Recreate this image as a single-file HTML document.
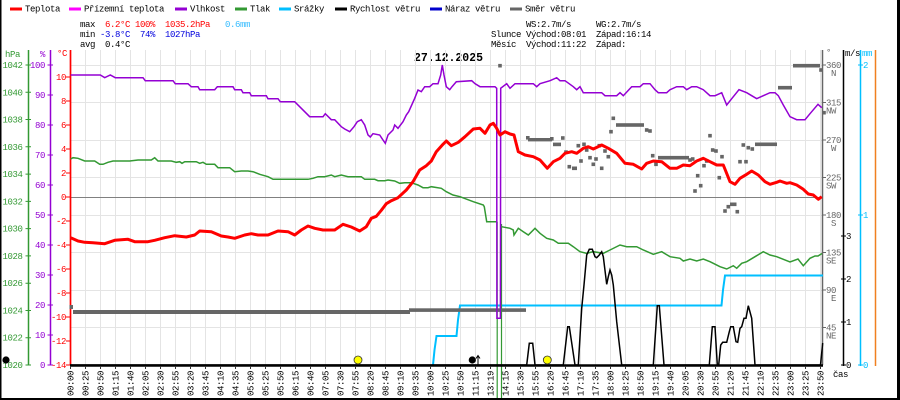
<!DOCTYPE html>
<html><head><meta charset="utf-8"><style>
html,body{margin:0;padding:0;background:#fff;}
svg{display:block;}
text{font-family:"Liberation Mono","DejaVu Sans Mono",monospace;font-size:9px;letter-spacing:-0.4px;}
</style></head><body>
<svg width="900" height="400" viewBox="0 0 900 400" xmlns="http://www.w3.org/2000/svg">
<rect width="900" height="400" fill="#fff"/>

<!-- legend -->
<g stroke-width="3">
<line x1="10" y1="9" x2="22" y2="9" stroke="#ff0000"/>
<line x1="69" y1="9" x2="81" y2="9" stroke="#ff00ff"/>
<line x1="175" y1="9" x2="187" y2="9" stroke="#9400d3"/>
<line x1="235" y1="9" x2="247" y2="9" stroke="#339933"/>
<line x1="279" y1="9" x2="291" y2="9" stroke="#00bfff"/>
<line x1="335" y1="9" x2="347" y2="9" stroke="#000"/>
<line x1="430" y1="9" x2="442" y2="9" stroke="#0000cc"/>
<line x1="510" y1="9" x2="522" y2="9" stroke="#666"/>
</g>
<g fill="#000">
<text x="25" y="11.5">Teplota</text>
<text x="84" y="11.5">Přízemní teplota</text>
<text x="190" y="11.5">Vlhkost</text>
<text x="250" y="11.5">Tlak</text>
<text x="294" y="11.5">Srážky</text>
<text x="350" y="11.5">Rychlost větru</text>
<text x="445" y="11.5">Náraz větru</text>
<text x="525" y="11.5">Směr větru</text>
</g>

<!-- stats -->
<text x="80" y="27">max</text>
<text x="105" y="27" fill="#ff0000">6.2°C</text>
<text x="135" y="27" fill="#ff0000">100%</text>
<text x="165" y="27" fill="#ff0000">1035.2hPa</text>
<text x="225" y="27" fill="#33bbff">0.6mm</text>
<text x="80" y="37">min</text>
<text x="100" y="37" fill="#0000dd">-3.8°C</text>
<text x="140" y="37" fill="#0000dd">74%</text>
<text x="165" y="37" fill="#0000dd">1027hPa</text>
<text x="80" y="47">avg</text>
<text x="105" y="47">0.4°C</text>

<text x="526" y="27">WS:2.7m/s</text>
<text x="596" y="27">WG:2.7m/s</text>
<text x="491" y="37">Slunce</text>
<text x="526" y="37">Východ:08:01</text>
<text x="596" y="37">Západ:16:14</text>
<text x="491" y="47">Měsíc</text>
<text x="526" y="47">Východ:11:22</text>
<text x="596" y="47">Západ:</text>

<text x="414" y="61" style="font-size:11.5px;font-weight:bold;letter-spacing:0px">27.12.2025</text>

<!-- axis headers -->
<text x="5" y="57" fill="#339933">hPa</text>
<text x="40" y="57" fill="#9400d3">%</text>
<text x="57" y="56" fill="#ff0000">°C</text>
<text x="826" y="55" fill="#666">°</text>
<text x="845" y="56">m/s</text>
<text x="862" y="56" fill="#00bfff">mm</text>

<!-- grid -->
<path d="M85.5 50V365M100.5 50V365M115.5 50V365M130.5 50V365M145.5 50V365M160.5 50V365M175.5 50V365M190.5 50V365M205.5 50V365M220.5 50V365M235.5 50V365M250.5 50V365M265.5 50V365M280.5 50V365M295.5 50V365M310.5 50V365M325.5 50V365M340.5 50V365M355.5 50V365M370.5 50V365M385.5 50V365M400.5 50V365M415.5 50V365M430.5 50V365M445.5 50V365M460.5 50V365M475.5 50V365M490.5 50V365M505.5 50V365M520.5 50V365M535.5 50V365M550.5 50V365M565.5 50V365M580.5 50V365M595.5 50V365M610.5 50V365M625.5 50V365M640.5 50V365M655.5 50V365M670.5 50V365M685.5 50V365M700.5 50V365M715.5 50V365M730.5 50V365M745.5 50V365M760.5 50V365M775.5 50V365M790.5 50V365M805.5 50V365M820.5 50V365" stroke="#e4e4e4" stroke-width="1"/>
<path d="M70 65.5H822M70 102.5H822M70 140.5H822M70 177.5H822M70 215.5H822M70 252.5H822M70 290.5H822M70 327.5H822" stroke="#e4e4e4" stroke-width="1"/>
<line x1="70" y1="197.5" x2="822" y2="197.5" stroke="#808080" stroke-width="1"/>

<!-- left axes -->
<line x1="28.5" y1="50" x2="28.5" y2="365" stroke="#339933" stroke-width="1.5"/>
<line x1="50.5" y1="50" x2="50.5" y2="365" stroke="#9400d3" stroke-width="1.5"/>
<line x1="70.5" y1="50" x2="70.5" y2="365" stroke="#ff0000" stroke-width="1.7"/>
<path d="M25.5 65H31M25.5 92.3H31M25.5 119.5H31M25.5 146.8H31M25.5 174.1H31M25.5 201.4H31M25.5 228.6H31M25.5 255.9H31M25.5 283.2H31M25.5 310.5H31M25.5 337.7H31M25.5 365H31" stroke="#339933" stroke-width="1"/>
<path d="M47.5 65H53M47.5 95H53M47.5 125H53M47.5 155H53M47.5 185H53M47.5 215H53M47.5 245H53M47.5 275H53M47.5 305H53M47.5 335H53M47.5 365H53" stroke="#9400d3" stroke-width="1"/>
<path d="M66 77H70M66 101H70M66 125H70M66 149H70M66 173H70M66 197H70M66 221H70M66 245H70M66 269H70M66 293H70M66 317H70M66 341H70M66 365H70" stroke="#ff0000" stroke-width="1"/>
<g fill="#339933" text-anchor="end">
<text x="22.5" y="68">1042</text><text x="22.5" y="95.3">1040</text><text x="22.5" y="122.5">1038</text><text x="22.5" y="149.8">1036</text><text x="22.5" y="177.1">1034</text><text x="22.5" y="204.4">1032</text><text x="22.5" y="231.6">1030</text><text x="22.5" y="258.9">1028</text><text x="22.5" y="286.2">1026</text><text x="22.5" y="313.5">1024</text><text x="22.5" y="340.7">1022</text><text x="22.5" y="368">1020</text>
</g>
<g fill="#9400d3" text-anchor="end">
<text x="45" y="68">100</text><text x="45" y="98">90</text><text x="45" y="128">80</text><text x="45" y="158">70</text><text x="45" y="188">60</text><text x="45" y="218">50</text><text x="45" y="248">40</text><text x="45" y="278">30</text><text x="45" y="308">20</text><text x="45" y="338">10</text><text x="45" y="368">0</text>
</g>
<g fill="#ff0000" text-anchor="end">
<text x="66" y="80">10</text><text x="66" y="104">8</text><text x="66" y="128">6</text><text x="66" y="152">4</text><text x="66" y="176">2</text><text x="66" y="200">0</text><text x="66" y="224">-2</text><text x="66" y="248">-4</text><text x="66" y="272">-6</text><text x="66" y="296">-8</text><text x="66" y="320">-10</text><text x="66" y="344">-12</text><text x="66" y="368">-14</text>
</g>

<!-- right axes -->
<line x1="822.5" y1="50" x2="822.5" y2="365" stroke="#666" stroke-width="1.5"/>
<line x1="843.5" y1="50" x2="843.5" y2="366" stroke="#000" stroke-width="1.5"/>
<line x1="860.5" y1="50" x2="860.5" y2="366" stroke="#00bfff" stroke-width="1.5"/>
<line x1="875.5" y1="50" x2="875.5" y2="366" stroke="#f08020" stroke-width="1.5"/>
<path d="M822 65H826M822 102.5H826M822 140H826M822 177.5H826M822 215H826M822 252.5H826M822 290H826M822 327.5H826" stroke="#666" stroke-width="1"/>
<path d="M841 365H846M841 322H846M841 279H846M841 236H846" stroke="#000" stroke-width="1"/>
<path d="M858 365H863M858 215H863M858 65H863" stroke="#00bfff" stroke-width="1"/>
<g fill="#666">
<text x="826" y="68">360</text><text x="831" y="76">N</text>
<text x="826" y="105.5">315</text><text x="826" y="113.5">NW</text>
<text x="826" y="143">270</text><text x="831" y="151">W</text>
<text x="826" y="180.5">225</text><text x="826" y="188.5">SW</text>
<text x="826" y="218">180</text><text x="831" y="226">S</text>
<text x="826" y="255.5">135</text><text x="826" y="263.5">SE</text>
<text x="826" y="293">90</text><text x="831" y="301">E</text>
<text x="826" y="330.5">45</text><text x="826" y="338.5">NE</text>
</g>
<g fill="#000">
<text x="846" y="368">0</text><text x="846" y="325">1</text><text x="846" y="282">2</text><text x="846" y="239">3</text>
</g>
<g fill="#00bfff">
<text x="863" y="368">0</text><text x="863" y="218">1</text><text x="863" y="68">2</text>
</g>

<!-- series: precipitation -->
<polyline fill="none" stroke="#00bfff" stroke-width="2" points="433,365 434.5,350 436.5,336 456.5,336 458,320 460,305.5 721.5,305.5 723,290 725,275.5 823,275.5"/>

<!-- wind direction -->
<g fill="#666">
<rect x="69.5" y="305" width="3.5" height="4"/>
<rect x="73" y="310" width="337" height="4"/>
<rect x="409" y="308.3" width="117" height="3.6"/>
<rect x="498.2" y="63.9" width="3.6" height="3.6"/>
<rect x="526" y="136" width="3.6" height="3.6"/>
<rect x="528" y="138" width="24" height="3.4"/>
<rect x="550" y="137" width="3.6" height="3.6"/>
<rect x="561" y="136.2" width="3.6" height="3.6"/>
<rect x="553" y="142.6" width="8" height="3.6"/>
<rect x="564.2" y="150.3" width="3.6" height="3.6"/>
<rect x="567.5" y="164.9" width="3.6" height="3.6"/>
<rect x="572" y="166.5" width="5" height="3.6"/>
<rect x="576.5" y="143.9" width="3.6" height="3.6"/>
<rect x="579.2" y="159.2" width="3.6" height="3.6"/>
<rect x="582.2" y="142.5" width="3.6" height="3.6"/>
<rect x="584.9" y="148.2" width="3.6" height="3.6"/>
<rect x="588.2" y="155.9" width="3.6" height="3.6"/>
<rect x="594.2" y="157.2" width="3.6" height="3.6"/>
<rect x="591.5" y="162.5" width="3.6" height="3.6"/>
<rect x="597.5" y="143.9" width="3.6" height="3.6"/>
<rect x="603.2" y="149.2" width="3.6" height="3.6"/>
<rect x="599.9" y="166.5" width="3.6" height="3.6"/>
<rect x="606.5" y="154.9" width="3.6" height="3.6"/>
<rect x="609.2" y="129.9" width="3.6" height="3.6"/>
<rect x="611.5" y="116.5" width="3.6" height="3.6"/>
<rect x="616" y="123.2" width="28" height="3.6"/>
<rect x="644.9" y="128.2" width="3.6" height="3.6"/>
<rect x="648.2" y="129.2" width="3.6" height="3.6"/>
<rect x="650.9" y="153.9" width="3.6" height="3.6"/>
<rect x="654.2" y="162.5" width="3.6" height="3.6"/>
<rect x="658" y="155.9" width="31" height="3.6"/>
<rect x="688.2" y="158.2" width="3.6" height="3.6"/>
<rect x="690.9" y="157.2" width="3.6" height="3.6"/>
<rect x="693.2" y="189.2" width="3.6" height="3.6"/>
<rect x="695.9" y="173.9" width="3.6" height="3.6"/>
<rect x="698.9" y="183.9" width="3.6" height="3.6"/>
<rect x="702.2" y="163.9" width="3.6" height="3.6"/>
<rect x="704.9" y="159.2" width="3.6" height="3.6"/>
<rect x="708.2" y="133.9" width="3.6" height="3.6"/>
<rect x="710.9" y="148.2" width="3.6" height="3.6"/>
<rect x="714.2" y="149.2" width="3.6" height="3.6"/>
<rect x="717.5" y="175.9" width="3.6" height="3.6"/>
<rect x="720.2" y="154.9" width="3.6" height="3.6"/>
<rect x="723.2" y="209.2" width="3.6" height="3.6"/>
<rect x="726.5" y="204.9" width="3.6" height="3.6"/>
<rect x="730" y="202.5" width="6.5" height="3.6"/>
<rect x="735.5" y="209.9" width="3.6" height="3.6"/>
<rect x="738.2" y="159.9" width="3.6" height="3.6"/>
<rect x="744.2" y="159.9" width="3.6" height="3.6"/>
<rect x="741.5" y="143.2" width="3.6" height="3.6"/>
<rect x="746.5" y="145.9" width="3.6" height="3.6"/>
<rect x="750.5" y="147.2" width="3.6" height="3.6"/>
<rect x="755" y="142.5" width="22" height="3.6"/>
<rect x="778" y="85.9" width="14" height="3.6"/>
<rect x="793" y="63.9" width="27" height="3.6"/>
<rect x="819.2" y="68.2" width="3.6" height="3.6"/>
<rect x="822.2" y="110.9" width="3.6" height="3.6"/>
</g>

<!-- pressure -->
<polyline fill="none" stroke="#339933" stroke-width="1.5" points="70.7,159 73,157.7 78,158.3 84.7,161 94.7,161 99.7,164.3 103,164.3 108,162.3 113,161 129.7,161 138,160 151.3,160 154.7,157.7 158,161 171.3,161 176.3,162.3 179.7,161.7 182,163.3 184.7,161.7 196.3,161.7 199.7,163.3 203,162.3 206.3,164.3 214.7,164.3 218,167.7 229.7,167.7 234.7,171.7 241.3,171 248,171 253,171.7 259.7,174.3 268,176.7 273,179.3 308,179.3 313,178.3 318,176.7 324.7,176.7 331.3,175 334.7,176.7 341.3,175 348,176.7 361.3,176.7 364.7,179.3 374.7,179.3 378,180.7 384.7,180.7 388,180 394.7,181 399.7,183.3 404.7,182.7 411.3,182.7 418,185 423,187.7 428,187.7 431.3,186.7 441.3,188.3 446.3,191.7 453,195 460,196.7 473.3,201.7 483.3,205 484.3,206.7 486.7,221.7 497,221.7"/>
<polyline fill="none" stroke="#339933" stroke-width="1.5" points="501.5,226.7 510,228.3 513.3,230 514,235 518.3,228.3 523.3,231.7 528.3,235 535,228.3 540,233.3 546.7,238.3 553.3,240 558.3,243.3 568.3,243.3 573.3,246.7 580,251.7 586.7,253.3 593.3,251.7 603.3,253.3 610,250 620,245 626.7,246.7 636.7,246.7 643.3,250 653.3,254.3 661.7,251.7 670,256.7 680,258.3 683.3,261 690,259 696.7,261 703.3,259 710,261.7 720,266.7 726.7,269 733.3,265.7 736.7,268.3 741.7,263.3 746.7,261.7 755,256.7 763.3,251.7 770,255 776.7,256.7 790,262 798,259 803.3,265.7 810,258.3 815,256 818,256 822,253.5"/>
<line x1="497.2" y1="221.7" x2="497.2" y2="398" stroke="#339933" stroke-width="1.2"/>
<line x1="501.5" y1="224" x2="501.5" y2="398" stroke="#339933" stroke-width="1.2"/>

<!-- humidity -->
<polyline fill="none" stroke="#9400d3" stroke-width="1.5" points="70.7,75 100.3,75 104.7,77.7 110.3,75 115.3,77.7 143,77.7 145.3,80.7 173,80.7 175.3,83.7 188,83.7 191.3,86.7 198,86.7 199.7,89.7 214.7,89.7 217.3,86.7 233,86.7 234.7,89.7 241.3,89.7 243,92.7 249.7,92.7 251.3,95.7 266.3,95.7 268,98.7 278,98.7 280.3,101.7 294.7,101.7 301.3,108.3 309.7,116.7 323,116.7 325.3,113.7 331.3,119.7 334.7,119.7 341.3,126.7 344.7,129 349.7,131.7 354,126.7 357.3,121.7 361.3,119.7 364.7,125 368,135 370.3,137 373,133.7 379.7,135 383,140 385.3,143.3 388,135 393,130 394.7,125 398,128.3 403,121.7 406.3,115 408.7,111.7 414.7,98.3 418,90 421.3,91.7 424.7,86.7 429.7,86.7 433,83.7 438,83.7 440.7,75 442.3,65 444,75 446.3,86.7 449.7,89.7 452,86.7 456.3,81.7 471.7,80.7 475,83.7 480,86.7 495,86.7 496.7,88.3 496.9,318.3 500.4,318.3 500.7,88.3 506.7,83.7 510,88.3 515,83.7 533.3,83.7 536.7,86.7 540,83.7 550,80.7 556.7,77.7 560,80.7 565,80.7 573.3,86.7 576.7,89.7 580,86.7 583.3,92.7 601.7,92.7 605,95.7 616.7,95.7 620,92.7 623.3,95.7 631.7,86.7 640,86.7 643.3,83.7 650,83.7 655,89.7 658.3,92.7 666.7,92.7 670,89.7 676.7,86.7 683.3,86.7 686.7,89.7 691.7,86.7 696.7,86.7 703.3,89.7 710,95.7 715,95.7 721.7,92.7 726.7,105 731.7,98.7 739,89.7 746.7,92.7 751.7,95.7 756.7,98.7 763.3,95.7 770,92.7 775,92.7 778.3,95.7 783.3,105 790,116.7 796.7,119.7 805,119.7 810,113.7 818,104.3 821.7,107.7"/>

<!-- temperature -->
<polyline fill="none" stroke="#ff0000" stroke-width="3" stroke-linejoin="round" points="70.7,237.7 78,241 84.7,242.3 93,242.7 104.7,243.7 114.7,240.3 128,239.3 134.7,241.7 148,241.7 154.7,240.3 164.7,237.7 174.7,235.7 186.3,237 194.7,235 199.7,231 211.3,231.7 221.3,236 228,237 234.7,238.3 244.7,235 251.3,233.7 258,235 268,235 278,231 288,231.7 294.7,235 301.3,230 308,226 314.7,228.3 323,230 334.7,230 343,224.3 351.3,227 359.7,231 366.3,226.7 371.3,218.3 376.3,216.3 381.3,210.3 386.3,203.7 391.3,200.7 398,197.7 406.3,190 413,181.7 419.7,170 426.3,165.7 431.3,161 436.3,151.7 443,144.3 446.3,141 451.3,145.7 458.3,142.3 465,136.7 473.3,129 480,128.3 485,133.3 490,125 493.3,123.3 496.7,128.3 500,135 505,131.7 510,134 514,135 518.3,151.7 525,155 533.3,156.7 540,160 547.3,168.3 553.3,161.7 560,158.3 565,153.3 571.7,151.7 576.7,153.3 583.3,148.3 588.3,146.7 593.3,149 601.7,145 608.3,148.3 616.7,153.3 625,163.3 633.3,164.3 641.7,169 646.7,163.3 653.3,161 661.7,161.7 670,168.3 676.7,168.3 683.3,165 690,165.7 696.7,161 703.3,158.3 710,161.7 716.7,165 723.3,165 730,181.7 735,184.3 740,178.3 746.7,174.3 751.7,171 758.3,175 765,181.7 770,184.3 776.7,182.3 780,181 786.7,183.3 790,182.7 796.7,185 803.3,189.3 808.3,194 813.3,195 818.3,199.3 821.7,196.7"/>

<!-- wind speed -->
<polyline fill="none" stroke="#000" stroke-width="1.5" points="70,365 526.7,365 529.3,343.3 532.7,343.3 535,365 563.3,365 567.7,326.7 569.3,326.7 575,365 578.3,365 581.7,308.3 584,285 586.7,255 589.3,249.3 592.3,249.3 595,256.7 596.7,257.7 599.3,255 601.7,251.7 603.3,256.7 606.7,284.3 608.3,276.7 610,270 611.7,275 613.3,285 616.7,321.7 621.7,365 653.3,365 657.3,305.7 659.3,305.7 664,365 709.3,365 712.3,326.7 715,326.7 717.3,365 718.7,365 720.7,345 722.7,342.3 726.7,342.3 729.3,331.7 730.7,326.7 733.3,326.7 736,341.7 737.7,342.3 740,328.3 741.7,326.7 744,318.3 746,318.3 748.3,305.7 751.7,318.3 755,365 820.5,365 822.7,343"/>

<!-- bottom axis -->
<line x1="70" y1="365.5" x2="823" y2="365.5" stroke="#000" stroke-width="2.5"/>
<path d="M70.5 366V369M85.5 366V369M100.5 366V369M115.5 366V369M130.5 366V369M145.5 366V369M160.5 366V369M175.5 366V369M190.5 366V369M205.5 366V369M220.5 366V369M235.5 366V369M250.5 366V369M265.5 366V369M280.5 366V369M295.5 366V369M310.5 366V369M325.5 366V369M340.5 366V369M355.5 366V369M370.5 366V369M385.5 366V369M400.5 366V369M415.5 366V369M430.5 366V369M445.5 366V369M460.5 366V369M475.5 366V369M490.5 366V369M505.5 366V369M520.5 366V369M535.5 366V369M550.5 366V369M565.5 366V369M580.5 366V369M595.5 366V369M610.5 366V369M625.5 366V369M640.5 366V369M655.5 366V369M670.5 366V369M685.5 366V369M700.5 366V369M715.5 366V369M730.5 366V369M745.5 366V369M760.5 366V369M775.5 366V369M790.5 366V369M805.5 366V369M820.5 366V369" stroke="#333" stroke-width="1"/>

<!-- markers -->
<circle cx="6" cy="360" r="3.6" fill="#000"/>
<circle cx="358" cy="360" r="4" fill="#ffff00" stroke="#333" stroke-width="0.8"/>
<circle cx="472.3" cy="360" r="3.6" fill="#000"/>
<path d="M478 365V356M476 358.5L478 355.5L480 358.5" stroke="#000" stroke-width="1" fill="none"/>
<circle cx="547.3" cy="360" r="4" fill="#ffff00" stroke="#333" stroke-width="0.8"/>

<!-- time labels -->
<g fill="#000" style="letter-spacing:0px">
<text transform="translate(73.5,396) rotate(-90)">00:00</text>
<text transform="translate(88.5,396) rotate(-90)">00:25</text>
<text transform="translate(103.5,396) rotate(-90)">00:50</text>
<text transform="translate(118.5,396) rotate(-90)">01:15</text>
<text transform="translate(133.5,396) rotate(-90)">01:40</text>
<text transform="translate(148.5,396) rotate(-90)">02:05</text>
<text transform="translate(163.5,396) rotate(-90)">02:30</text>
<text transform="translate(178.5,396) rotate(-90)">02:55</text>
<text transform="translate(193.5,396) rotate(-90)">03:20</text>
<text transform="translate(208.5,396) rotate(-90)">03:45</text>
<text transform="translate(223.5,396) rotate(-90)">04:10</text>
<text transform="translate(238.5,396) rotate(-90)">04:35</text>
<text transform="translate(253.5,396) rotate(-90)">05:00</text>
<text transform="translate(268.5,396) rotate(-90)">05:25</text>
<text transform="translate(283.5,396) rotate(-90)">05:50</text>
<text transform="translate(298.5,396) rotate(-90)">06:15</text>
<text transform="translate(313.5,396) rotate(-90)">06:40</text>
<text transform="translate(328.5,396) rotate(-90)">07:05</text>
<text transform="translate(343.5,396) rotate(-90)">07:30</text>
<text transform="translate(358.5,396) rotate(-90)">07:55</text>
<text transform="translate(373.5,396) rotate(-90)">08:20</text>
<text transform="translate(388.5,396) rotate(-90)">08:45</text>
<text transform="translate(403.5,396) rotate(-90)">09:10</text>
<text transform="translate(418.5,396) rotate(-90)">09:35</text>
<text transform="translate(433.5,396) rotate(-90)">10:00</text>
<text transform="translate(448.5,396) rotate(-90)">10:25</text>
<text transform="translate(463.5,396) rotate(-90)">10:50</text>
<text transform="translate(478.5,396) rotate(-90)">11:15</text>
<text transform="translate(493.5,396) rotate(-90)">13:19</text>
<text transform="translate(508.5,396) rotate(-90)">14:15</text>
<text transform="translate(523.5,396) rotate(-90)">15:30</text>
<text transform="translate(538.5,396) rotate(-90)">15:55</text>
<text transform="translate(553.5,396) rotate(-90)">16:20</text>
<text transform="translate(568.5,396) rotate(-90)">16:45</text>
<text transform="translate(583.5,396) rotate(-90)">17:10</text>
<text transform="translate(598.5,396) rotate(-90)">17:35</text>
<text transform="translate(613.5,396) rotate(-90)">18:00</text>
<text transform="translate(628.5,396) rotate(-90)">18:25</text>
<text transform="translate(643.5,396) rotate(-90)">18:50</text>
<text transform="translate(658.5,396) rotate(-90)">19:15</text>
<text transform="translate(673.5,396) rotate(-90)">19:40</text>
<text transform="translate(688.5,396) rotate(-90)">20:05</text>
<text transform="translate(703.5,396) rotate(-90)">20:30</text>
<text transform="translate(718.5,396) rotate(-90)">20:55</text>
<text transform="translate(733.5,396) rotate(-90)">21:20</text>
<text transform="translate(748.5,396) rotate(-90)">21:45</text>
<text transform="translate(763.5,396) rotate(-90)">22:10</text>
<text transform="translate(778.5,396) rotate(-90)">22:35</text>
<text transform="translate(793.5,396) rotate(-90)">23:00</text>
<text transform="translate(808.5,396) rotate(-90)">23:25</text>
<text transform="translate(823.5,396) rotate(-90)">23:50</text>
</g>
<text x="833" y="377">čas</text>

<!-- frame -->
<rect x="0" y="0" width="1.5" height="400" fill="#000"/>
<rect x="897" y="0" width="3" height="400" fill="#000"/>
<rect x="0" y="398" width="900" height="2" fill="#000"/>
</svg>
</body></html>
